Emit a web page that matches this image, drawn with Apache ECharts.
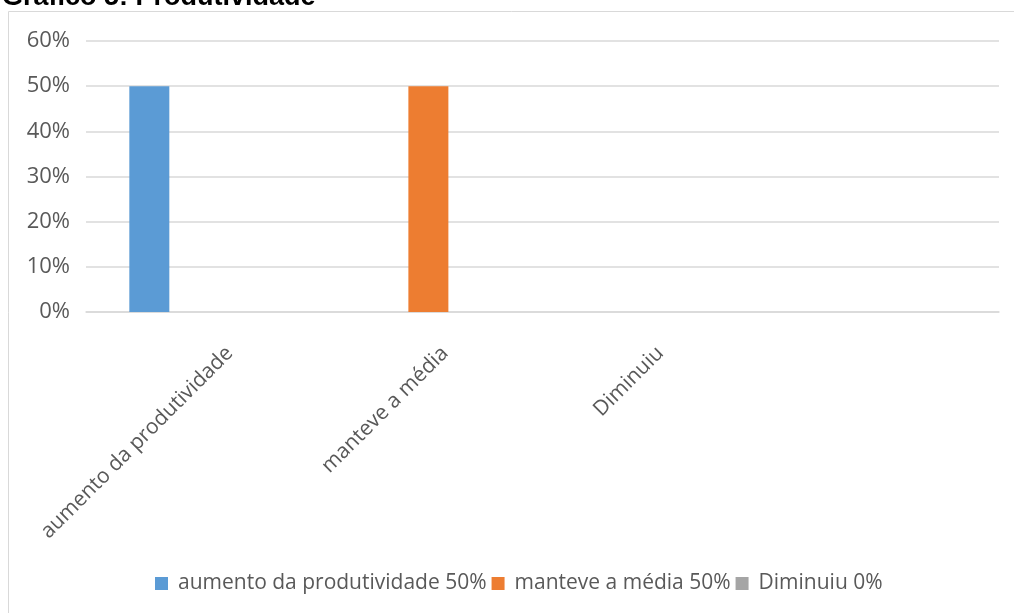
<!DOCTYPE html>
<html>
<head>
<meta charset="utf-8">
<script src="https://cdn.jsdelivr.net/npm/echarts@6/dist/echarts.min.js"></script>
<style>
  html, body { margin: 0; padding: 0; background: #fff; }
  #chart { width: 1014px; height: 613px; }
</style>
</head>
<body>
<div id="chart"></div>
<script>
  // categories and values
  var barCategories = ['aumento da produtividade', 'manteve a média', 'Diminuiu', ''];
  var labelCategories = ['aumento da produtividade', 'manteve a média', 'Diminuiu'];
  var seriesNames = ['aumento da produtividade 50%', 'manteve a média 50%', 'Diminuiu 0%'];
  var aumentoValues = [50, null, null, null];
  var manteveValues = [null, 50, null, null];
  var diminuiuValues = [null, null, 0, null];
  var seriesColors = ['#5b9bd5', '#ed7d31', '#a5a5a5'];

  var font = '"Open Sans", sans-serif';
  var myChart = echarts.init(document.getElementById('chart'));

  function barSeries (i, data) {
    return {
      name: seriesNames[i],
      type: 'bar',
      xAxisIndex: 0,
      yAxisIndex: 0,
      barWidth: 40,
      barGap: '27%',
      itemStyle: { color: seriesColors[i] },
      data: data
    };
  }

  myChart.setOption({
    animation: false,
    textStyle: { fontFamily: font },
    graphic: [
      {
        type: 'rect',
        shape: { x: 8.5, y: 11.5, width: 1100, height: 700 },
        style: { fill: 'none', stroke: '#d9d9d9', lineWidth: 1 },
        silent: true
      },
      {
        type: 'text',
        x: 2,
        y: -2,
        style: {
          text: 'Gráfico 5: Produtividade',
          font: 'bold 27px "Liberation Sans", Arial, sans-serif',
          fill: '#000',
          verticalAlign: 'middle'
        }
      }
    ],
    legend: {
      left: 150,
      top: 568,
      itemWidth: 13,
      itemHeight: 13,
      itemGap: 5,
      icon: 'rect',
      textStyle: { fontFamily: font, fontSize: 21, color: '#595959', padding: [0, 0, 0, 5] },
      data: seriesNames
    },
    grid: [
      { left: 86, right: 15, top: 41, bottom: 301 },
      { left: 122, right: 246, top: 41, bottom: 301 }
    ],
    xAxis: [
      {
        type: 'category',
        gridIndex: 0,
        data: barCategories,
        axisLine: { lineStyle: { color: '#d9d9d9', width: 1.5 } },
        axisTick: { show: false },
        axisLabel: { show: false }
      },
      {
        type: 'category',
        gridIndex: 1,
        data: labelCategories,
        axisLine: { show: false },
        axisTick: { show: false },
        axisLabel: {
          rotate: 45,
          margin: 38,
          interval: 0,
          fontFamily: font,
          fontSize: 21,
          color: '#595959'
        }
      }
    ],
    yAxis: [
      {
        type: 'value',
        gridIndex: 0,
        min: 0,
        max: 60,
        interval: 10,
        axisLine: { show: false },
        axisTick: { show: false },
        axisLabel: {
          formatter: '{value}%',
          margin: 16,
          fontFamily: font,
          fontSize: 22,
          color: '#595959'
        },
        splitLine: { lineStyle: { color: '#d9d9d9', width: 1.5 } }
      },
      {
        type: 'value',
        gridIndex: 1,
        show: false
      }
    ],
    series: [
      barSeries(0, aumentoValues),
      barSeries(1, manteveValues),
      barSeries(2, diminuiuValues)
    ]
  });
</script>
</body>
</html>
